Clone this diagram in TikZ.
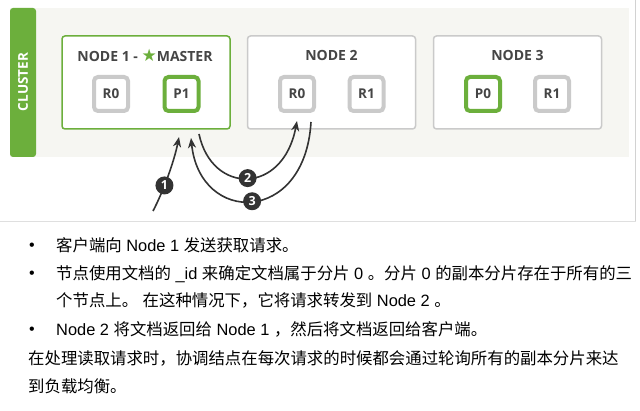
\documentclass[tikz,border=0pt]{standalone}
\usepackage{fontspec}
\setmainfont{Liberation Sans}
\newfontfamily\cjk{Noto Sans CJK SC}
\newfontfamily\osans{Open Sans}
\newfontfamily\djv{DejaVu Sans}
\usetikzlibrary{arrows.meta}
\definecolor{esgreen}{HTML}{6CAF3C}
\definecolor{boxgray}{HTML}{CACACA}
\definecolor{titlegray}{HTML}{454545}
\definecolor{clusterbg}{HTML}{F6F6F2}
\definecolor{arrowdark}{HTML}{333333}
\definecolor{framegray}{HTML}{D2D2D2}
\newcommand{\zh}[1]{{\cjk #1}}
\tikzset{
  nodebox/.style={draw=boxgray, line width=1.5pt, rounded corners=3pt, fill=white,
    minimum width=168pt, minimum height=93pt, inner sep=0pt},
  shard/.style={draw=boxgray, line width=4pt, rounded corners=4pt, fill=white,
    minimum size=34pt, inner sep=0pt, text=titlegray,
    font=\osans\bfseries\fontsize{13.5}{13.5}\selectfont},
  nodetitle/.style={inner sep=0pt, text=titlegray,
    font=\osans\bfseries\fontsize{14}{14}\selectfont},
  arr/.style={draw=arrowdark, line width=1.6pt,
    -{Stealth[length=10pt,width=8pt,inset=3pt]}},
  badge/.style={circle, fill=arrowdark, text=white, minimum size=18pt, inner sep=0pt,
    font=\osans\bfseries\fontsize{12.5}{12.5}\selectfont},
  txt/.style={anchor=base west, inner sep=0pt, font=\fontsize{16.4}{16.4}\selectfont},
  bul/.style={anchor=base, inner sep=0pt, font=\fontsize{16}{16}\selectfont},
}
\begin{document}
\begin{tikzpicture}[x=1pt,y=-1pt]
\useasboundingbox (0,0) rectangle (640,411);
\fill[white] (0,0) rectangle (640,411);
% frame lines of the screenshot
\draw[framegray, line width=1.2pt] (635.5,0) -- (635.5,221);
\draw[framegray!70, line width=0.8pt] (0,221) -- (635.5,221);
% cluster background
\fill[clusterbg] (10,8) rectangle (629,157);
\fill[esgreen, rounded corners=3pt] (10,8) rectangle (36,157);
\node[rotate=90, text=white, inner sep=0pt,
  font=\osans\bfseries\fontsize{13.5}{13.5}\selectfont] (cl) at (23,82) {CLUSTER};
% nodes
\node[nodebox, draw=esgreen] (n1) at (146,82.5) {};
\node[nodebox] (n2) at (331.5,82.5) {};
\node[nodebox] (n3) at (517.5,82.5) {};
\node[nodetitle] (t1) at (145,55) {NODE 1 - {\djv\color{esgreen}\fontsize{17}{17}\selectfont ★}MASTER};
\node[nodetitle] (t2) at (331.5,55) {NODE 2};
\node[nodetitle] (t3) at (517.5,55) {NODE 3};
% shards
\node[shard] (s1a) at (111,94) {R0};
\node[shard, draw=esgreen] (s1b) at (181.5,94) {P1};
\node[shard] (s2a) at (297,94) {R0};
\node[shard] (s2b) at (366.5,94) {R1};
\node[shard, draw=esgreen] (s3a) at (483,94) {P0};
\node[shard] (s3b) at (552,94) {R1};
% arrows
\coordinate (a1s) at (153,211);
\coordinate (a1e) at (179,137);
\coordinate (a2s) at (199,134);
\coordinate (a2e) at (297,121);
\coordinate (a3s) at (311,122);
\coordinate (a3e) at (191,138);
\draw[arr] (a1s) .. controls (163,192) and (174,162) .. (a1e) node[badge, pos=0.38] (b1) {1};
\draw[arr] (a2s) .. controls (212,195) and (283,195) .. (a2e) node[badge, pos=0.5] (b2) {2};
\draw[arr] (a3s) .. controls (305,225) and (200,225) .. (a3e) node[badge, pos=0.5] (b3) {3};
% text
\node[bul] (d1) at (32,251) {•};
\node[txt] (l1) at (56,252) {\zh{客户端向} Node 1 \zh{发送获取请求。}};
\node[bul] (d2) at (32,279) {•};
\node[txt] (l2) at (56,280) {\zh{节点使用文档的} \_id \zh{来确定文档属于分片} 0 \zh{。分片} 0 \zh{的副本分片存在于所有的三}};
\node[txt] (l3) at (56,307) {\zh{个节点上。} \zh{在这种情况下，它将请求转发到} Node 2 \zh{。}};
\node[bul] (d4) at (32,335) {•};
\node[txt] (l4) at (56,336) {Node 2 \zh{将文档返回给} Node 1 \zh{，然后将文档返回给客户端。}};
\node[txt] (l5) at (28,365) {\zh{在处理读取请求时，协调结点在每次请求的时候都会通过轮询所有的副本分片来达}};
\node[txt] (l6) at (28,393) {\zh{到负载均衡。}};
\end{tikzpicture}
\end{document}
